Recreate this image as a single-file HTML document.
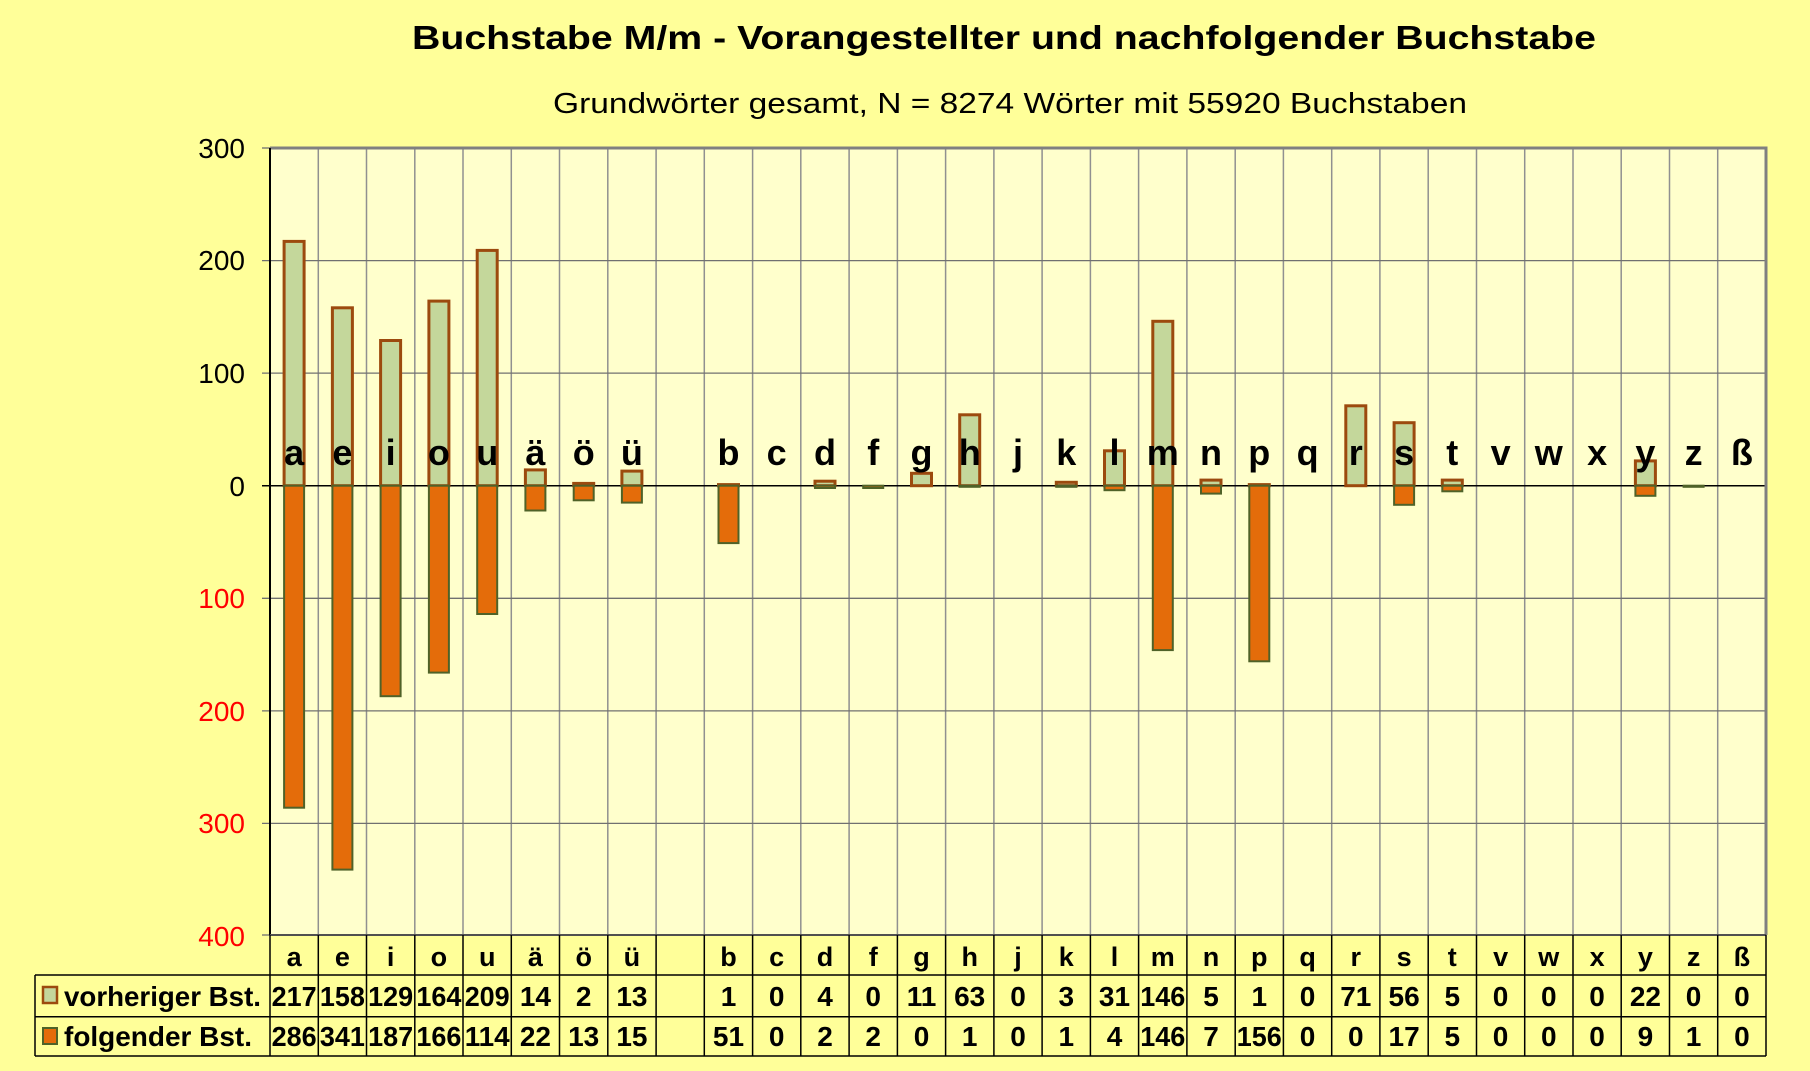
<!DOCTYPE html>
<html><head><meta charset="utf-8"><style>
html,body{margin:0;padding:0;background:#ffff99;}
svg{display:block;font-family:"Liberation Sans",Arial,sans-serif;}
</style></head><body>
<svg width="1810" height="1071" viewBox="0 0 1810 1071" xmlns="http://www.w3.org/2000/svg">
<rect width="1810" height="1071" fill="#ffff99"/>
<text x="1004" y="49" text-anchor="middle" font-size="33" font-weight="bold" textLength="1184" lengthAdjust="spacingAndGlyphs">Buchstabe M/m - Vorangestellter und nachfolgender Buchstabe</text>
<text x="1010" y="113" text-anchor="middle" font-size="29" textLength="914" lengthAdjust="spacingAndGlyphs">Grundwörter gesamt,  N = 8274 Wörter mit 55920 Buchstaben</text>
<rect x="270" y="148" width="1496" height="787" fill="#ffffcc"/>
<g stroke="#909090" stroke-width="1.5">
<line x1="318.3" y1="148" x2="318.3" y2="935"/><line x1="366.5" y1="148" x2="366.5" y2="935"/><line x1="414.8" y1="148" x2="414.8" y2="935"/><line x1="463" y1="148" x2="463" y2="935"/><line x1="511.3" y1="148" x2="511.3" y2="935"/><line x1="559.5" y1="148" x2="559.5" y2="935"/><line x1="607.8" y1="148" x2="607.8" y2="935"/><line x1="656.1" y1="148" x2="656.1" y2="935"/><line x1="704.3" y1="148" x2="704.3" y2="935"/><line x1="752.6" y1="148" x2="752.6" y2="935"/><line x1="800.8" y1="148" x2="800.8" y2="935"/><line x1="849.1" y1="148" x2="849.1" y2="935"/><line x1="897.4" y1="148" x2="897.4" y2="935"/><line x1="945.6" y1="148" x2="945.6" y2="935"/><line x1="993.9" y1="148" x2="993.9" y2="935"/><line x1="1042.1" y1="148" x2="1042.1" y2="935"/><line x1="1090.4" y1="148" x2="1090.4" y2="935"/><line x1="1138.6" y1="148" x2="1138.6" y2="935"/><line x1="1186.9" y1="148" x2="1186.9" y2="935"/><line x1="1235.2" y1="148" x2="1235.2" y2="935"/><line x1="1283.4" y1="148" x2="1283.4" y2="935"/><line x1="1331.7" y1="148" x2="1331.7" y2="935"/><line x1="1379.9" y1="148" x2="1379.9" y2="935"/><line x1="1428.2" y1="148" x2="1428.2" y2="935"/><line x1="1476.5" y1="148" x2="1476.5" y2="935"/><line x1="1524.7" y1="148" x2="1524.7" y2="935"/><line x1="1573" y1="148" x2="1573" y2="935"/><line x1="1621.2" y1="148" x2="1621.2" y2="935"/><line x1="1669.5" y1="148" x2="1669.5" y2="935"/><line x1="1717.7" y1="148" x2="1717.7" y2="935"/>
</g>
<g stroke="#707070" stroke-width="1.3">
<line x1="262" y1="260.6" x2="1766" y2="260.6"/><line x1="262" y1="373.1" x2="1766" y2="373.1"/><line x1="262" y1="598.3" x2="1766" y2="598.3"/><line x1="262" y1="710.9" x2="1766" y2="710.9"/><line x1="262" y1="823.4" x2="1766" y2="823.4"/>
<line x1="262" y1="148" x2="270" y2="148"/><line x1="262" y1="935" x2="270" y2="935"/>
</g>
<line x1="262" y1="485.7" x2="1766" y2="485.7" stroke="#000" stroke-width="1.5"/>
<polyline points="270,148 1766,148 1766,935" fill="none" stroke="#808080" stroke-width="3"/>
<line x1="270" y1="148" x2="270" y2="935" stroke="#000" stroke-width="2"/>
<line x1="270" y1="935" x2="1766" y2="935" stroke="#505050" stroke-width="2"/>
<g font-size="28" text-anchor="end">
<text x="245" y="158">300</text><text x="245" y="270">200</text><text x="245" y="383">100</text><text x="245" y="496">0</text>
<g fill="#ff0000"><text x="245" y="608">100</text><text x="245" y="721">200</text><text x="245" y="833">300</text><text x="245" y="946">400</text></g>
</g>
<g fill="#c4d79b" stroke="#9c4a0e" stroke-width="3">
<rect x="284.1" y="241.4" width="20" height="244.3"/><rect x="332.4" y="307.8" width="20" height="177.9"/><rect x="380.6" y="340.5" width="20" height="145.2"/><rect x="428.9" y="301.1" width="20" height="184.6"/><rect x="477.2" y="250.4" width="20" height="235.3"/><rect x="525.4" y="469.9" width="20" height="15.8"/><rect x="573.7" y="483.4" width="20" height="2.3"/><rect x="621.9" y="471.1" width="20" height="14.6"/>
<rect x="718.5" y="484.6" width="20" height="1.1"/><rect x="815" y="481.2" width="20" height="4.5"/><rect x="911.5" y="473.3" width="20" height="12.4"/><rect x="959.7" y="414.8" width="20" height="70.9"/><rect x="1056.3" y="482.3" width="20" height="3.4"/><rect x="1104.5" y="450.8" width="20" height="34.9"/><rect x="1152.8" y="321.3" width="20" height="164.4"/><rect x="1201" y="480.1" width="20" height="5.6"/><rect x="1249.3" y="484.6" width="20" height="1.1"/><rect x="1345.8" y="405.8" width="20" height="79.9"/><rect x="1394.1" y="422.7" width="20" height="63"/><rect x="1442.3" y="480.1" width="20" height="5.6"/><rect x="1635.4" y="460.9" width="20" height="24.8"/>
</g>
<g fill="#e46c0a" stroke="#4f6228" stroke-width="2">
<rect x="284.1" y="485.7" width="20" height="322"/><rect x="332.4" y="485.7" width="20" height="383.9"/><rect x="380.6" y="485.7" width="20" height="210.5"/><rect x="428.9" y="485.7" width="20" height="186.9"/><rect x="477.2" y="485.7" width="20" height="128.3"/><rect x="525.4" y="485.7" width="20" height="24.8"/><rect x="573.7" y="485.7" width="20" height="14.6"/><rect x="621.9" y="485.7" width="20" height="16.9"/>
<rect x="718.5" y="485.7" width="20" height="57.4"/><rect x="815" y="485.7" width="20" height="2.3"/><rect x="863.2" y="485.7" width="20" height="2.3"/><rect x="959.7" y="485.7" width="20" height="1.1"/><rect x="1056.3" y="485.7" width="20" height="1.1"/><rect x="1104.5" y="485.7" width="20" height="4.5"/><rect x="1152.8" y="485.7" width="20" height="164.4"/><rect x="1201" y="485.7" width="20" height="7.9"/><rect x="1249.3" y="485.7" width="20" height="175.6"/><rect x="1394.1" y="485.7" width="20" height="19.1"/><rect x="1442.3" y="485.7" width="20" height="5.6"/><rect x="1635.4" y="485.7" width="20" height="10.1"/><rect x="1683.6" y="485.7" width="20" height="1.1"/>
</g>
<g font-size="36" font-weight="bold" text-anchor="middle">
<text x="294.1" y="465">a</text><text x="342.4" y="465">e</text><text x="390.6" y="465">i</text><text x="438.9" y="465">o</text><text x="487.2" y="465">u</text><text x="535.4" y="465">ä</text><text x="583.7" y="465">ö</text><text x="631.9" y="465">ü</text>
<text x="728.5" y="465">b</text><text x="776.7" y="465">c</text><text x="825" y="465">d</text><text x="873.2" y="465">f</text><text x="921.5" y="465">g</text><text x="969.7" y="465">h</text><text x="1018" y="465">j</text><text x="1066.3" y="465">k</text><text x="1114.5" y="465">l</text><text x="1162.8" y="465">m</text><text x="1211" y="465">n</text><text x="1259.3" y="465">p</text><text x="1307.6" y="465">q</text><text x="1355.8" y="465">r</text><text x="1404.1" y="465">s</text><text x="1452.3" y="465">t</text><text x="1500.6" y="465">v</text><text x="1548.8" y="465">w</text><text x="1597.1" y="465">x</text><text x="1645.4" y="465">y</text><text x="1693.6" y="465">z</text><text x="1741.9" y="465">ß</text>
</g>
<g stroke="#000" stroke-width="1.5" fill="none">
<line x1="35" y1="975" x2="1766" y2="975"/><line x1="35" y1="1016.7" x2="1766" y2="1016.7"/><line x1="35" y1="1056" x2="1766" y2="1056"/>
<line x1="35" y1="975" x2="35" y2="1056"/>
<path d="M270 935V1056M318.3 935V1056M366.5 935V1056M414.8 935V1056M463 935V1056M511.3 935V1056M559.5 935V1056M607.8 935V1056M656.1 935V1056M704.3 935V1056M752.6 935V1056M800.8 935V1056M849.1 935V1056M897.4 935V1056M945.6 935V1056M993.9 935V1056M1042.1 935V1056M1090.4 935V1056M1138.6 935V1056M1186.9 935V1056M1235.2 935V1056M1283.4 935V1056M1331.7 935V1056M1379.9 935V1056M1428.2 935V1056M1476.5 935V1056M1524.7 935V1056M1573 935V1056M1621.2 935V1056M1669.5 935V1056M1717.7 935V1056M1766 935V1056"/>
</g>
<rect x="43" y="987" width="14" height="16" fill="#c4d79b" stroke="#9c4a0e" stroke-width="2.5"/>
<rect x="43" y="1028" width="14" height="16" fill="#e46c0a" stroke="#4f6228" stroke-width="2"/>
<g font-size="28" font-weight="bold">
<text x="64" y="1006" textLength="197" lengthAdjust="spacingAndGlyphs">vorheriger Bst.</text>
<text x="64" y="1046" textLength="188" lengthAdjust="spacingAndGlyphs">folgender Bst.</text>
</g>
<g font-size="27" font-weight="bold" text-anchor="middle">
<text x="294.1" y="966">a</text><text x="342.4" y="966">e</text><text x="390.6" y="966">i</text><text x="438.9" y="966">o</text><text x="487.2" y="966">u</text><text x="535.4" y="966">ä</text><text x="583.7" y="966">ö</text><text x="631.9" y="966">ü</text>
<text x="728.5" y="966">b</text><text x="776.7" y="966">c</text><text x="825" y="966">d</text><text x="873.2" y="966">f</text><text x="921.5" y="966">g</text><text x="969.7" y="966">h</text><text x="1018" y="966">j</text><text x="1066.3" y="966">k</text><text x="1114.5" y="966">l</text><text x="1162.8" y="966">m</text><text x="1211" y="966">n</text><text x="1259.3" y="966">p</text><text x="1307.6" y="966">q</text><text x="1355.8" y="966">r</text><text x="1404.1" y="966">s</text><text x="1452.3" y="966">t</text><text x="1500.6" y="966">v</text><text x="1548.8" y="966">w</text><text x="1597.1" y="966">x</text><text x="1645.4" y="966">y</text><text x="1693.6" y="966">z</text><text x="1741.9" y="966">ß</text>
</g>
<g font-size="28" font-weight="bold" text-anchor="middle">
<text x="294.1" y="1006" textLength="45" lengthAdjust="spacingAndGlyphs">217</text><text x="342.4" y="1006" textLength="45" lengthAdjust="spacingAndGlyphs">158</text><text x="390.6" y="1006" textLength="45" lengthAdjust="spacingAndGlyphs">129</text><text x="438.9" y="1006" textLength="45" lengthAdjust="spacingAndGlyphs">164</text><text x="487.2" y="1006" textLength="45" lengthAdjust="spacingAndGlyphs">209</text><text x="535.4" y="1006">14</text><text x="583.7" y="1006">2</text><text x="631.9" y="1006">13</text>
<text x="728.5" y="1006">1</text><text x="776.7" y="1006">0</text><text x="825" y="1006">4</text><text x="873.2" y="1006">0</text><text x="921.5" y="1006">11</text><text x="969.7" y="1006">63</text><text x="1018" y="1006">0</text><text x="1066.3" y="1006">3</text><text x="1114.5" y="1006">31</text><text x="1162.8" y="1006" textLength="45" lengthAdjust="spacingAndGlyphs">146</text><text x="1211" y="1006">5</text><text x="1259.3" y="1006">1</text><text x="1307.6" y="1006">0</text><text x="1355.8" y="1006">71</text><text x="1404.1" y="1006">56</text><text x="1452.3" y="1006">5</text><text x="1500.6" y="1006">0</text><text x="1548.8" y="1006">0</text><text x="1597.1" y="1006">0</text><text x="1645.4" y="1006">22</text><text x="1693.6" y="1006">0</text><text x="1741.9" y="1006">0</text>
<text x="294.1" y="1046" textLength="45" lengthAdjust="spacingAndGlyphs">286</text><text x="342.4" y="1046" textLength="45" lengthAdjust="spacingAndGlyphs">341</text><text x="390.6" y="1046" textLength="45" lengthAdjust="spacingAndGlyphs">187</text><text x="438.9" y="1046" textLength="45" lengthAdjust="spacingAndGlyphs">166</text><text x="487.2" y="1046" textLength="45" lengthAdjust="spacingAndGlyphs">114</text><text x="535.4" y="1046">22</text><text x="583.7" y="1046">13</text><text x="631.9" y="1046">15</text>
<text x="728.5" y="1046">51</text><text x="776.7" y="1046">0</text><text x="825" y="1046">2</text><text x="873.2" y="1046">2</text><text x="921.5" y="1046">0</text><text x="969.7" y="1046">1</text><text x="1018" y="1046">0</text><text x="1066.3" y="1046">1</text><text x="1114.5" y="1046">4</text><text x="1162.8" y="1046" textLength="45" lengthAdjust="spacingAndGlyphs">146</text><text x="1211" y="1046">7</text><text x="1259.3" y="1046" textLength="45" lengthAdjust="spacingAndGlyphs">156</text><text x="1307.6" y="1046">0</text><text x="1355.8" y="1046">0</text><text x="1404.1" y="1046">17</text><text x="1452.3" y="1046">5</text><text x="1500.6" y="1046">0</text><text x="1548.8" y="1046">0</text><text x="1597.1" y="1046">0</text><text x="1645.4" y="1046">9</text><text x="1693.6" y="1046">1</text><text x="1741.9" y="1046">0</text>
</g>
</svg>
</body></html>
